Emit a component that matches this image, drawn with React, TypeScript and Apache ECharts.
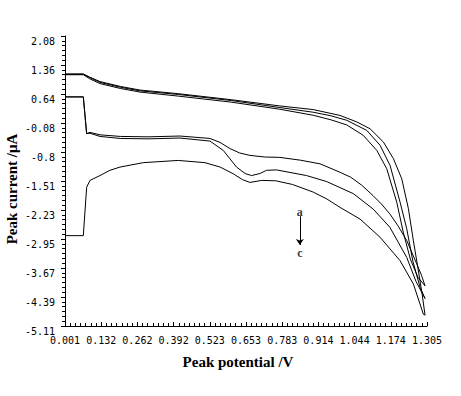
import React, { useEffect, useRef } from "react";
import * as echarts from "echarts";

const xMin = 0.001;
const xMax = 1.305;
const xInterval = 0.1304;
const yMin = -5.11;
const yMax = 2.08;
const yInterval = 0.719;

const xTickLabels = ["0.001", "0.132", "0.262", "0.392", "0.523", "0.653", "0.783", "0.914", "1.044", "1.174", "1.305"];
const yTickLabels = ["-5.11", "-4.39", "-3.67", "-2.95", "-2.23", "-1.51", "-0.8", "-0.08", "0.64", "1.36", "2.08"];

// forward (upper) branches, left -> right
const upperA: number[][] = [
  [0.001, 1.12], [0.067, 1.12], [0.09, 1.02], [0.127, 0.9], [0.2, 0.78], [0.271, 0.69], [0.409, 0.59],
  [0.6, 0.44], [0.775, 0.264], [0.895, 0.115], [0.96, 0.0], [1.016, -0.125], [1.075, -0.38], [1.124, -0.756],
  [1.16, -1.21], [1.196, -2.04], [1.22, -2.8], [1.245, -3.45], [1.272, -3.9], [1.298, -4.115],
];
const upperB: number[][] = [
  [0.001, 1.13], [0.067, 1.13], [0.09, 1.05], [0.127, 0.93], [0.2, 0.81], [0.271, 0.72], [0.409, 0.63],
  [0.6, 0.48], [0.775, 0.306], [0.895, 0.19], [0.96, 0.1], [1.016, -0.01], [1.088, -0.26], [1.136, -0.63],
  [1.172, -1.13], [1.208, -2.04], [1.232, -2.7], [1.254, -3.5], [1.28, -4.15], [1.298, -4.43],
];
const upperC: number[][] = [
  [0.001, 1.14], [0.067, 1.14], [0.09, 1.06], [0.127, 0.95], [0.2, 0.83], [0.271, 0.74], [0.409, 0.65],
  [0.6, 0.5], [0.775, 0.346], [0.895, 0.256], [0.992, 0.11], [1.052, -0.05], [1.1, -0.22], [1.148, -0.55],
  [1.184, -0.96], [1.214, -1.46], [1.238, -2.2], [1.256, -3.0], [1.273, -3.7], [1.287, -4.3], [1.298, -4.84],
];

// reverse (lower) branches, listed left -> right
const lowerA: number[][] = [
  [0.001, 0.57], [0.067, 0.57], [0.079, -0.34], [0.091, -0.31], [0.127, -0.37], [0.2, -0.41], [0.3, -0.42],
  [0.415, -0.4], [0.523, -0.46], [0.56, -0.56], [0.595, -0.71], [0.63, -0.82], [0.667, -0.88], [0.72, -0.92],
  [0.775, -0.93], [0.85, -1.0], [0.92, -1.09], [0.992, -1.3], [1.03, -1.42], [1.07, -1.62], [1.111, -1.88],
  [1.14, -2.08], [1.171, -2.33], [1.2, -2.62], [1.232, -2.99], [1.268, -3.57], [1.285, -3.85], [1.298, -4.115],
];
const lowerB: number[][] = [
  [0.001, 0.57], [0.067, 0.57], [0.079, -0.34], [0.091, -0.33], [0.127, -0.41], [0.2, -0.46], [0.3, -0.47],
  [0.415, -0.45], [0.523, -0.525], [0.571, -0.756], [0.619, -1.17], [0.65, -1.33], [0.673, -1.38],
  [0.703, -1.33], [0.727, -1.25], [0.763, -1.24], [0.871, -1.38], [0.944, -1.53], [1.04, -1.83],
  [1.111, -2.21], [1.171, -2.66], [1.232, -3.41], [1.265, -4.0], [1.298, -4.43],
];
const lowerC: number[][] = [
  [0.001, -2.87], [0.067, -2.87], [0.079, -1.67], [0.091, -1.5], [0.127, -1.38], [0.163, -1.25],
  [0.199, -1.17], [0.283, -1.06], [0.409, -1.005], [0.505, -1.06], [0.56, -1.17], [0.607, -1.336],
  [0.64, -1.48], [0.667, -1.55], [0.71, -1.5], [0.76, -1.51], [0.82, -1.6], [0.895, -1.79], [0.944, -1.96],
  [0.992, -2.17], [1.064, -2.46], [1.136, -2.91], [1.208, -3.49], [1.256, -4.07], [1.292, -4.82], [1.298, -4.84],
];

const annotationLabels: (number | string)[][] = [
  [0.847, -2.29, "a"],
  [0.847, -3.29, "c"],
];
const arrowFrom = [0.847, -2.39];
const arrowTo = [0.847, -3.1];

const cycle = (up: number[][], low: number[][]) => [...up, ...low.slice().reverse()];

export default function App() {
  const ref = useRef<HTMLDivElement>(null);
  useEffect(() => {
    if (!ref.current) return;
    const chart = echarts.init(ref.current, null, { renderer: "svg" });
    const lineStyle = { color: "#000", width: 1 };
    const mkLine = (name: string, data: number[][]) => ({
      name,
      type: "line",
      data,
      showSymbol: false,
      symbol: "none",
      smooth: false,
      lineStyle,
      itemStyle: { color: "#000" },
      z: 2,
    });
    const tickFont = { fontFamily: "DejaVu Sans Mono", fontSize: 10, color: "#000" };
    const titleFont = { fontFamily: "Liberation Serif", fontWeight: "bold", fontSize: 15, color: "#000" };
    chart.setOption({
      animation: false,
      backgroundColor: "#fff",
      grid: { left: 65, right: 34, top: 36, bottom: 70, containLabel: false, outerBoundsMode: "none" },
      xAxis: {
        type: "value",
        min: xMin,
        max: xMax,
        interval: xInterval,
        name: "Peak potential /V",
        nameLocation: "middle",
        nameGap: 28,
        nameMoveOverlap: false,
        nameTextStyle: { ...titleFont, padding: [0, 16, 0, 0] },
        axisLine: { show: true, onZero: false, lineStyle: { color: "#000", width: 1 } },
        axisTick: { show: true, inside: true, length: 4, lineStyle: { color: "#000", width: 1 } },
        minorTick: { show: true, splitNumber: 7, length: 3, lineStyle: { color: "#000", width: 1 } },
        splitLine: { show: false },
        axisLabel: {
          ...tickFont,
          margin: 9,
          formatter: (v: number) => xTickLabels[Math.round((v - xMin) / xInterval)] ?? "",
        },
      },
      yAxis: {
        type: "value",
        min: yMin,
        max: yMax,
        interval: yInterval,
        name: "Peak current /μA",
        nameLocation: "middle",
        nameGap: 46,
        nameMoveOverlap: false,
        nameTextStyle: { ...titleFont, padding: [0, 16, 0, 0] },
        axisLine: { show: true, onZero: false, lineStyle: { color: "#000", width: 1 } },
        axisTick: { show: true, inside: false, length: 4, lineStyle: { color: "#000", width: 1 } },
        minorTick: { show: true, splitNumber: 6, length: 3, lineStyle: { color: "#000", width: 1 } },
        splitLine: { show: false },
        axisLabel: {
          ...tickFont,
          margin: 10,
          verticalAlign: "top",
          formatter: (v: number) => yTickLabels[Math.round((v - yMin) / yInterval)] ?? "",
        },
      },
      series: [
        mkLine("a", cycle(upperA, lowerA)),
        mkLine("b", cycle(upperB, lowerB)),
        mkLine("c", cycle(upperC, lowerC)),
        {
          name: "labels",
          type: "scatter",
          data: annotationLabels,
          symbolSize: 0,
          label: {
            show: true,
            position: "inside",
            formatter: (p: any) => p.value[2],
            fontFamily: "Liberation Serif",
            fontWeight: "bold",
            fontSize: 12,
            color: "#000",
          },
          markLine: {
            silent: true,
            symbol: ["none", "arrow"],
            symbolSize: 6,
            label: { show: false },
            lineStyle: { color: "#000", width: 1, type: "solid" },
            data: [[{ coord: arrowFrom }, { coord: arrowTo }]],
          },
        },
      ],
    });
    return () => chart.dispose();
  }, []);
  return (
    <div
      ref={ref}
      style={{ position: "fixed", left: 0, top: 0, width: 461, height: 396, background: "#fff" }}
    />
  );
}
